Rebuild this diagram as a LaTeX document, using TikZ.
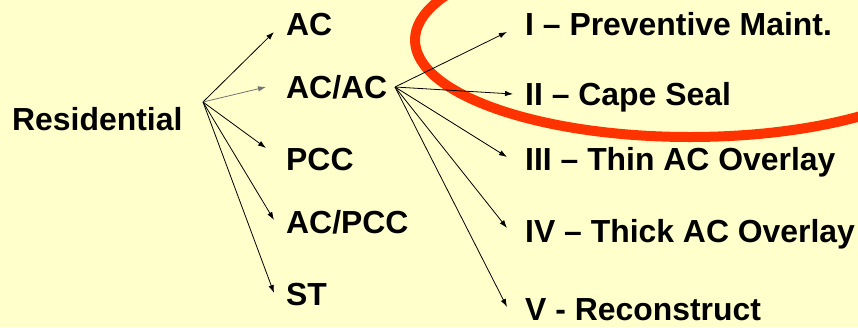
\documentclass[tikz,border=0pt]{standalone}
\usepackage{fontspec}
\setmainfont{Liberation Sans}
\usetikzlibrary{arrows.meta}
\definecolor{bgyellow}{HTML}{FFFFCC}
\definecolor{hired}{HTML}{FF3300}
\tikzset{
  lbl/.style={anchor=base west, inner sep=0pt, font=\fontsize{31.9}{36}\selectfont\bfseries},
  conn/.style={line width=0.8pt, -{Latex[length=8pt,width=5.5pt]}},
  gconn/.style={conn, draw=black!55},
}
\begin{document}
\begin{tikzpicture}[x=1pt,y=-1pt]
\fill[bgyellow] (0,0) rectangle (858,327);
\useasboundingbox (0,0) rectangle (858,327);
\begin{scope}
\clip (0,0) rectangle (858,327);
\draw[hired, line width=10pt] (690,40) ellipse [x radius=275, y radius=97];
\end{scope}
% text
\node[lbl] (res) at (12,130) {Residential};
\node[lbl] (ac) at (286,35) {AC};
\node[lbl] (acac) at (286,98) {AC/AC};
\node[lbl] (pcc) at (286,170) {PCC};
\node[lbl] (acpcc) at (286,233) {AC/PCC};
\node[lbl] (st) at (286,305) {ST};
\node[lbl] (r1) at (525,35) {I – Preventive Maint.};
\node[lbl] (r2) at (525,105) {II – Cape Seal};
\node[lbl] (r3) at (525,170) {III – Thin AC Overlay};
\node[lbl] (r4) at (525,242) {IV – Thick AC Overlay};
\node[lbl] (r5) at (525,320) {V - Reconstruct};
% origins and tips
\coordinate (o1) at (203,102);
\coordinate (o2) at (395,87);
\coordinate (tac) at (274,32);
\coordinate (tacac) at (266,87);
\coordinate (tpcc) at (266,148);
\coordinate (tacpcc) at (274,220);
\coordinate (tst) at (274,293);
\coordinate (t1) at (507,32);
\coordinate (t2) at (513,94);
\coordinate (t3) at (507,157);
\coordinate (t4) at (507,228);
\coordinate (t5) at (507,307);
\draw[conn] (o1) -- (tac);
\draw[gconn] (o1) -- (tacac);
\draw[conn] (o1) -- (tpcc);
\draw[conn] (o1) -- (tacpcc);
\draw[conn] (o1) -- (tst);
\draw[conn] (o2) -- (t1);
\draw[conn] (o2) -- (t2);
\draw[conn] (o2) -- (t3);
\draw[conn] (o2) -- (t4);
\draw[conn] (o2) -- (t5);
\end{tikzpicture}
\end{document}
